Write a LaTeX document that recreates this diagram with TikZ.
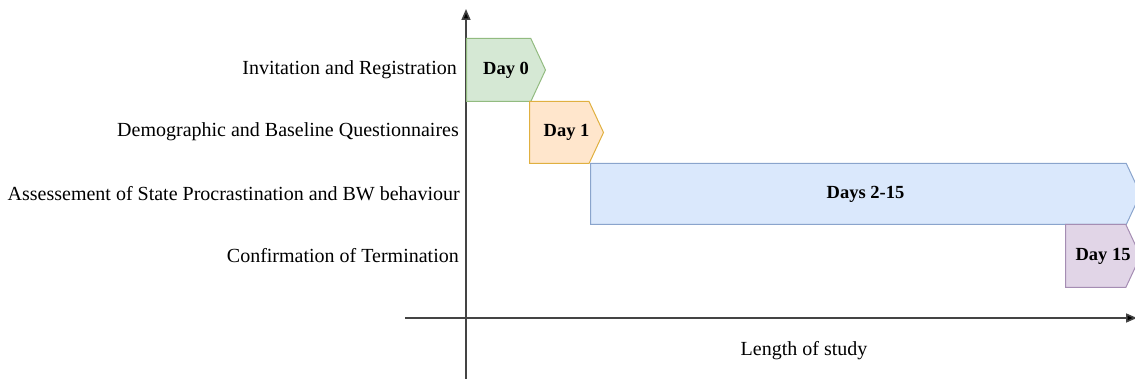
\documentclass[tikz,border=0pt]{standalone}
\usepackage{fontspec}
\setmainfont{Liberation Serif}
\usetikzlibrary{arrows.meta}
\usetikzlibrary{shapes.symbols}
\usetikzlibrary{calc}
\usetikzlibrary{positioning}

\definecolor{greenfill}{HTML}{D5E8D4}
\definecolor{greenline}{HTML}{92BB80}
\definecolor{orangefill}{HTML}{FFE6CC}
\definecolor{orangeline}{HTML}{E0B040}
\definecolor{bluefill}{HTML}{DAE8FC}
\definecolor{blueline}{HTML}{8AA4CC}
\definecolor{purplefill}{HTML}{E1D5E7}
\definecolor{purpleline}{HTML}{A58DB3}
\definecolor{axisgray}{HTML}{444444}

\tikzset{
    phase/.style={signal, signal to=east, signal pointer angle=130,
        inner sep=0pt, anchor=north west, line width=1pt},
    phasetext/.style={inner sep=0pt, font=\fontsize{18.5}{21}\selectfont\bfseries},
    steplabel/.style={anchor=east, inner sep=0pt, font=\fontsize{20}{23}\selectfont},
    axis/.style={axisgray, line width=1.6pt, -{Triangle[length=11pt, width=9pt, fill=black]}}
}

\begin{document}
\begin{tikzpicture}[x=1pt, y=-1pt]
                \useasboundingbox (0,0) rectangle (1135,379);
                
                % Axes
                \coordinate (ybot) at (466,379);
                \coordinate (ytop) at (466,9);
                \coordinate (xleft) at (405,318);
                \coordinate (xright) at (1137,318);
                \draw[axis] (ybot) -- (ytop);
                \draw[axis] (xleft) -- (xright);
                
                % Phases
                \node[phase, fill=greenfill, draw=greenline,
                    minimum width=79pt, minimum height=63pt] (day0) at (466,38) {};
                \node[phase, fill=orangefill, draw=orangeline,
                    minimum width=74pt, minimum height=62pt] (day1) at (529,101) {};
                \node[phase, fill=bluefill, draw=blueline,
                    minimum width=550pt, minimum height=61pt] (day2) at (590,163) {};
                \node[phase, fill=purplefill, draw=purpleline,
                    minimum width=75pt, minimum height=63pt] (day15) at (1065,224) {};
                \node[phasetext] (day0txt) at ($(day0.west)!0.5!(day0.east)$) {Day 0};
                \node[phasetext] (day1txt) at ($(day1.west)!0.5!(day1.east)$) {Day 1};
                \node[phasetext] (day2txt) at ($(day2.west)!0.5!(day2.east)$) {Days 2-15};
                \node[phasetext] (day15txt) at ($(day15.west)!0.5!(day15.east)$) {Day 15};
                
                % Labels
                \node[steplabel] (lbl0) at (457,70) {Invitation and Registration};
                \node[steplabel] (lbl1) at (459,132) {Demographic and Baseline Questionnaires};
                \node[steplabel] (lbl2) at (460,194) {Assessement of State Procrastination and BW behaviour};
                \node[steplabel] (lbl3) at (459,256) {Confirmation of Termination};
                \node[font=\fontsize{20}{23}\selectfont] (xlbl) at (804,351) {Length of study};
            \end{tikzpicture}
\end{document}
